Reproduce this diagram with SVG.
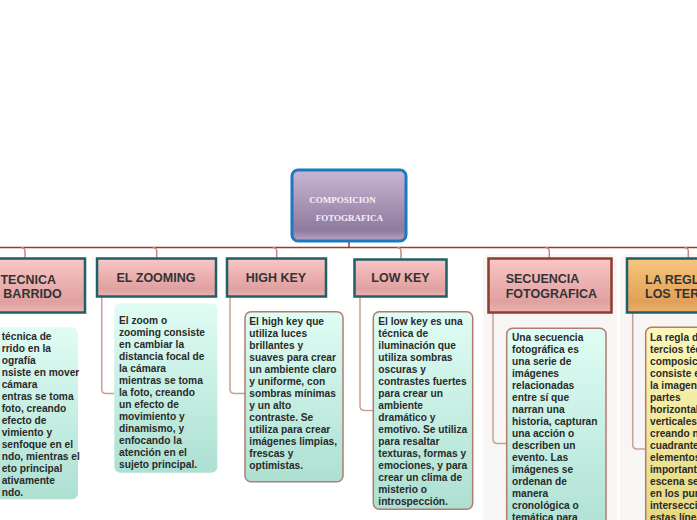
<svg xmlns="http://www.w3.org/2000/svg" width="697" height="520" viewBox="0 0 697 520">
<defs>
<linearGradient id="gRoot" x1="0" y1="0" x2="0" y2="1">
<stop offset="0" stop-color="#c9b6d3"/><stop offset="0.55" stop-color="#a48fb1"/><stop offset="0.85" stop-color="#8f7aa0"/><stop offset="1" stop-color="#b9a6c6"/>
</linearGradient>
<linearGradient id="gPink" x1="0" y1="0" x2="0" y2="1">
<stop offset="0" stop-color="#fac6c6"/><stop offset="0.8" stop-color="#e0a0a0"/><stop offset="1" stop-color="#eab4b4"/>
</linearGradient>
<linearGradient id="gOrange" x1="0" y1="0" x2="0" y2="1">
<stop offset="0" stop-color="#f7c67e"/><stop offset="0.8" stop-color="#e2a057"/><stop offset="1" stop-color="#ebb26c"/>
</linearGradient>
<linearGradient id="gMint" x1="0" y1="0" x2="0" y2="1">
<stop offset="0" stop-color="#e0fdf4"/><stop offset="1" stop-color="#ade0d2"/>
</linearGradient>
<linearGradient id="gYellow" x1="0" y1="0" x2="0" y2="1">
<stop offset="0" stop-color="#fdf8ba"/><stop offset="1" stop-color="#e4d67e"/>
</linearGradient>
</defs>
<style>
.panel{fill:#f8f6f4;}
.topic{stroke:#1f5f68;stroke-width:2.5;}
.topicB{stroke:#8e3c2c;stroke-width:2.5;}
.tt{font-family:"Liberation Sans",Arial,sans-serif;font-weight:bold;font-size:12.5px;fill:#333333;}
.sub{fill:url(#gMint);}
.subB{stroke:#b27c6e;stroke-width:1.5;}
.bt{font-family:"Liberation Sans",Arial,sans-serif;font-weight:bold;font-size:10.2px;fill:#2a2a2a;}
.rt{font-family:"Liberation Serif","Times New Roman",serif;font-weight:bold;font-size:9px;fill:#f6f0f8;}
.main{fill:none;stroke:#9a3a2a;stroke-width:1.5;}
.drop{fill:none;stroke:#c4877c;stroke-width:1.5;}
.link{fill:none;stroke:#c9a098;stroke-width:1.5;}
</style>
<rect class="panel" x="483" y="254" width="134" height="270" rx="6"/>
<rect class="panel" x="620" y="254" width="90" height="270" rx="6"/>
<g id="connectors">
<path class="main" d="M349 242 V247.5 M0 247.5 H697"/>
<path class="drop" d="M21 247.5 Q25 247.5 25 251.5 V258"/>
<path class="drop" d="M152.7 247.5 Q156.7 247.5 156.7 251.5 V258"/>
<path class="drop" d="M272.7 247.5 Q276.7 247.5 276.7 251.5 V258"/>
<path class="drop" d="M397 247.5 Q401 247.5 401 251.5 V259"/>
<path class="drop" d="M545.3 247.5 Q549.3 247.5 549.3 251.5 V258"/>
<path class="drop" d="M684.3 247.5 Q688.3 247.5 688.3 251.5 V258"/>
<path class="link" d="M101.7 297 V389 Q101.7 393.5 106 393.5 H114.3"/>
<path class="link" d="M230 297 V389 Q230 393.5 234.5 393.5 H245"/>
<path class="link" d="M360 297 V406 Q360 410.5 364.5 410.5 H373.3"/>
<path class="link" d="M493 313 V439 Q493 443.5 497.5 443.5 H506.7"/>
<path class="link" d="M632.7 313 V444.5 Q632.7 449 637 449 H645.7"/>
</g>
<g id="root">
<rect x="292" y="170" width="114" height="71" rx="6" fill="url(#gRoot)" stroke="#1c79c0" stroke-width="3"/>
<text class="rt" x="309.3" y="203">COMPOSICION</text>
<text class="rt" x="315.7" y="221">FOTOGRAFICA</text>
</g>
<g id="tecnica">
<rect class="topic" x="-40" y="258.5" width="125" height="54" fill="url(#gPink)"/>
<text class="tt" x="56" y="283.5" text-anchor="end">TECNICA</text>
<text class="tt" x="61.7" y="297.8" text-anchor="end">BARRIDO</text>
</g>
<g id="tecnica-text">
<rect class="sub" x="-22" y="327.3" width="100" height="172" rx="6"/>
<text class="bt" x="1.7" y="339.7">técnica de</text>
<text class="bt" x="1.7" y="351.7">rrido en la</text>
<text class="bt" x="1.7" y="363.7">ografía</text>
<text class="bt" x="1.7" y="375.7">nsiste en mover</text>
<text class="bt" x="1.7" y="387.7">cámara</text>
<text class="bt" x="1.7" y="399.7">entras se toma</text>
<text class="bt" x="1.7" y="411.7">foto, creando</text>
<text class="bt" x="1.7" y="423.7">efecto de</text>
<text class="bt" x="1.7" y="435.7">vimiento y</text>
<text class="bt" x="1.7" y="447.7">senfoque en el</text>
<text class="bt" x="1.7" y="459.7">ndo, mientras el</text>
<text class="bt" x="1.7" y="471.7">eto principal</text>
<text class="bt" x="1.7" y="483.7">ativamente</text>
<text class="bt" x="1.7" y="495.7">ndo.</text>
</g>
<g id="zooming">
<rect class="topic" x="97" y="258.5" width="119" height="38" fill="url(#gPink)"/>
<text class="tt" x="156" y="281.5" text-anchor="middle">EL ZOOMING</text>
</g>
<g id="zooming-text">
<rect class="sub" x="114.3" y="303.3" width="103" height="169.4" rx="6"/>
<text class="bt" x="119" y="324.3">El zoom o</text>
<text class="bt" x="119" y="336.3">zooming consiste</text>
<text class="bt" x="119" y="348.3">en cambiar la</text>
<text class="bt" x="119" y="360.3">distancia focal de</text>
<text class="bt" x="119" y="372.3">la cámara</text>
<text class="bt" x="119" y="384.3">mientras se toma</text>
<text class="bt" x="119" y="396.3">la foto, creando</text>
<text class="bt" x="119" y="408.3">un efecto de</text>
<text class="bt" x="119" y="420.3">movimiento y</text>
<text class="bt" x="119" y="432.3">dinamismo, y</text>
<text class="bt" x="119" y="444.3">enfocando la</text>
<text class="bt" x="119" y="456.3">atención en el</text>
<text class="bt" x="119" y="468.3">sujeto principal.</text>
</g>
<g id="highkey">
<rect class="topic" x="227" y="258.5" width="99" height="38" fill="url(#gPink)"/>
<text class="tt" x="276" y="281.5" text-anchor="middle">HIGH KEY</text>
</g>
<g id="highkey-text">
<rect class="sub subB" x="245" y="311.7" width="98" height="170" rx="6"/>
<text class="bt" x="249.3" y="325">El high key  que</text>
<text class="bt" x="249.3" y="337">utiliza luces</text>
<text class="bt" x="249.3" y="349">brillantes y</text>
<text class="bt" x="249.3" y="361">suaves para crear</text>
<text class="bt" x="249.3" y="373">un ambiente claro</text>
<text class="bt" x="249.3" y="385">y uniforme, con</text>
<text class="bt" x="249.3" y="397">sombras mínimas</text>
<text class="bt" x="249.3" y="409">y un alto</text>
<text class="bt" x="249.3" y="421">contraste. Se</text>
<text class="bt" x="249.3" y="433">utiliza para crear</text>
<text class="bt" x="249.3" y="445">imágenes limpias,</text>
<text class="bt" x="249.3" y="457">frescas y</text>
<text class="bt" x="249.3" y="469">optimistas.</text>
</g>
<g id="lowkey">
<rect class="topic" x="354.5" y="259.5" width="92" height="37" fill="url(#gPink)"/>
<text class="tt" x="400.5" y="282" text-anchor="middle">LOW KEY</text>
</g>
<g id="lowkey-text">
<rect class="sub subB" x="373.3" y="311.7" width="99.4" height="197.6" rx="6"/>
<text class="bt" x="378.3" y="325">El low key  es una</text>
<text class="bt" x="378.3" y="337">técnica de</text>
<text class="bt" x="378.3" y="349">iluminación que</text>
<text class="bt" x="378.3" y="361">utiliza sombras</text>
<text class="bt" x="378.3" y="373">oscuras y</text>
<text class="bt" x="378.3" y="385">contrastes fuertes</text>
<text class="bt" x="378.3" y="397">para crear un</text>
<text class="bt" x="378.3" y="409">ambiente</text>
<text class="bt" x="378.3" y="421">dramático y</text>
<text class="bt" x="378.3" y="433">emotivo. Se utiliza</text>
<text class="bt" x="378.3" y="445">para resaltar</text>
<text class="bt" x="378.3" y="457">texturas, formas y</text>
<text class="bt" x="378.3" y="469">emociones, y para</text>
<text class="bt" x="378.3" y="481">crear un clima de</text>
<text class="bt" x="378.3" y="493">misterio o</text>
<text class="bt" x="378.3" y="505">introspección.</text>
</g>
<g id="secuencia">
<rect class="topicB" x="488.5" y="258.5" width="123" height="54" fill="url(#gPink)"/>
<text class="tt" x="505.7" y="283.3">SECUENCIA</text>
<text class="tt" x="505.7" y="298.3">FOTOGRAFICA</text>
</g>
<g id="secuencia-text">
<rect class="sub subB" x="506.7" y="328.3" width="99.3" height="210" rx="6"/>
<text class="bt" x="512" y="341">Una secuencia</text>
<text class="bt" x="512" y="353">fotográfica  es</text>
<text class="bt" x="512" y="365">una serie de</text>
<text class="bt" x="512" y="377">imágenes</text>
<text class="bt" x="512" y="389">relacionadas</text>
<text class="bt" x="512" y="401">entre sí que</text>
<text class="bt" x="512" y="413">narran una</text>
<text class="bt" x="512" y="425">historia, capturan</text>
<text class="bt" x="512" y="437">una acción o</text>
<text class="bt" x="512" y="449">describen un</text>
<text class="bt" x="512" y="461">evento. Las</text>
<text class="bt" x="512" y="473">imágenes se</text>
<text class="bt" x="512" y="485">ordenan de</text>
<text class="bt" x="512" y="497">manera</text>
<text class="bt" x="512" y="509">cronológica o</text>
<text class="bt" x="512" y="521">temática para</text>
</g>
<g id="regla">
<rect class="topic" x="627" y="258.5" width="110" height="54" fill="url(#gOrange)"/>
<text class="tt" x="645" y="283.5">LA REGLA DE</text>
<text class="tt" x="645" y="297.8">LOS TERCIOS</text>
</g>
<g id="regla-text">
<rect x="645.7" y="327.3" width="100" height="210" rx="6" fill="url(#gYellow)" class="subB"/>
<text class="bt" x="650" y="341">La regla de los</text>
<text class="bt" x="650" y="353">tercios técnica de</text>
<text class="bt" x="650" y="365">composición</text>
<text class="bt" x="650" y="377">consiste en dividir</text>
<text class="bt" x="650" y="389">la imagen en tres</text>
<text class="bt" x="650" y="401">partes</text>
<text class="bt" x="650" y="413">horizontales y</text>
<text class="bt" x="650" y="425">verticales iguales,</text>
<text class="bt" x="650" y="437">creando nueve</text>
<text class="bt" x="650" y="449">cuadrantes. Los</text>
<text class="bt" x="650" y="461">elementos</text>
<text class="bt" x="650" y="473">importantes de la</text>
<text class="bt" x="650" y="485">escena se colocan</text>
<text class="bt" x="650" y="497">en los puntos de</text>
<text class="bt" x="650" y="509">intersección de</text>
<text class="bt" x="650" y="521">estas líneas.</text>
</g>
</svg>
